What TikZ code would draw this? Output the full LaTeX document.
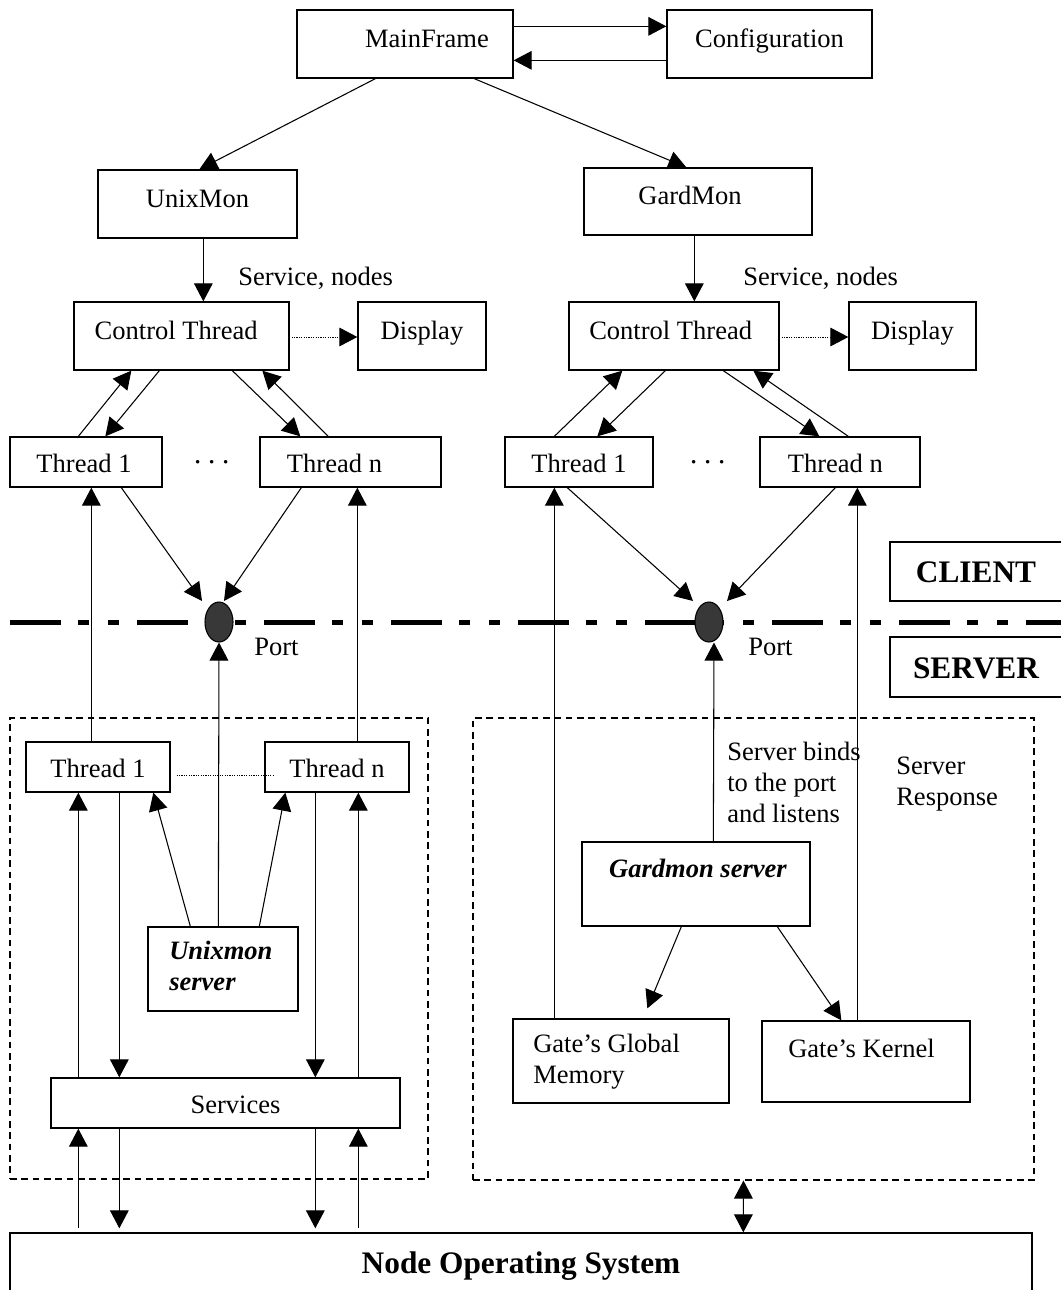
\documentclass[tikz,border=0pt]{standalone}
\usepackage{fontspec}
\setmainfont{Liberation Serif}
\usetikzlibrary{arrows.meta,calc,fit,shapes.geometric}
\begin{document}
\begin{tikzpicture}[x=0.75pt,y=-0.75pt,
  every node/.style={font=\fontsize{19.9}{23.25}\selectfont, inner sep=0pt},
  box/.style={draw, line width=1pt, rectangle, inner sep=0pt},
  sz/.style 2 args={minimum width=#1*0.75pt, minimum height=#2*0.75pt},
  tb/.style={text height=10pt, text depth=5.5pt},
  cb/.style={text height=15pt, text depth=0pt},
  bigb/.style={font=\fontsize{23.5}{28}\selectfont\bfseries, text height=17pt, text depth=0pt},
  bi/.style={font=\fontsize{19.9}{23}\selectfont\bfseries\itshape},
  dotsty/.style={font=\fontsize{27}{30}\selectfont},
  dbox/.style={draw, line width=0.8pt, dash pattern=on 5pt off 3.5pt, inner sep=0pt},
  tip/.tip={Triangle[length=13.5pt,width=14pt]},
  arr/.style={line width=0.8pt, -tip},
  darr/.style={line width=0.8pt, tip-tip},
  dotarr/.style={line width=0.7pt, dash pattern=on 0.8pt off 1pt, -tip},
  dotln/.style={line width=0.7pt, dash pattern=on 0.8pt off 1pt},
  port/.style={draw, ellipse, fill=black!78, line width=0.8pt, minimum width=21pt, minimum height=30pt},
  sep/.style={line width=3.75pt, dash pattern=on 38pt off 13pt on 8.25pt off 14.25pt on 8.25pt off 13.5pt}
]
\useasboundingbox (0,0) rectangle (1061,1290);
\clip (0,0) rectangle (1061,1290);

% dashed server regions
\node[dbox, fit={(10,718)(428,1179)}] (lbox) {};
\node[dbox, fit={(473,718)(1034,1180)}] (rbox) {};

% client boxes
\node[box, tb, sz={216}{68}] (mf) at (405,44) {\hspace*{33pt}MainFrame};
\node[box, tb, sz={205}{68}] (cfg) at (769.5,44) {Configuration};
\node[box, tb, sz={199}{68}] (um) at (197.5,204) {UnixMon};
\node[box, tb, sz={228}{67}] (gm) at (698,201.5) {\hspace*{-12pt}GardMon};
\node[box, tb, sz={215}{68}] (ct1) at (181.5,336) {\hspace*{-8pt}Control Thread};
\node[box, tb, sz={128}{68}] (d1) at (422,336) {Display};
\node[box, tb, sz={210}{68}] (ct2) at (674,336) {\hspace*{-5pt}Control Thread};
\node[box, tb, sz={127}{68}] (d2) at (912.5,336) {Display};
\node[box, cb, sz={152}{50}] (t11) at (86,462) {\hspace*{-3pt}Thread 1};
\node[box, cb, sz={181}{50}] (t1n) at (350.5,462) {Thread n\hspace*{24pt}};
\node[box, cb, sz={148}{50}] (t21) at (579,462) {Thread 1};
\node[box, cb, sz={160}{50}] (t2n) at (840,462) {Thread n\hspace*{7pt}};
\node[dotsty] (dots1) at (212,463) {${\cdot}\mkern2.5mu{\cdot}\mkern2.5mu{\cdot}$};
\node[dotsty] (dots2) at (708,463) {${\cdot}\mkern2.5mu{\cdot}\mkern2.5mu{\cdot}$};

\node[anchor=base west] (sn1) at (238,285) {Service, nodes};
\node[anchor=base west] (sn2) at (743,285) {Service, nodes};

% client / server labels
\node[box, bigb, sz={180}{59}] (client) at (980,571.5) {CLIENT\hspace*{6pt}};
\node[box, bigb, sz={180}{60}] (server) at (980,667) {SERVER\hspace*{6pt}};

% separator line and ports
\draw[sep] (10,622) -- (1061,622);
\node[port] (p1) at (219,622) {};
\node[port] (p2) at (709,622) {};
\node[anchor=base west] (port1) at (254,655) {Port};
\node[anchor=base west] (port2) at (748,655) {Port};

% server side (Unixmon)
\node[box, cb, sz={144}{50}] (s11) at (98,767) {Thread 1};
\node[box, cb, sz={144}{50}] (s1n) at (337,767) {Thread n};
\node[box, sz={150}{84}] (ums) at (223,969) {};
\node[bi, anchor=west, align=left] (umsT) at (169,966) {Unixmon\\server};
\node[box, cb, sz={349}{50}] (svc) at (225.5,1103) {\hspace*{15pt}Services};

% server side (Gardmon)
\node[box, sz={228}{84}] (gms) at (696,884) {};
\node[bi, anchor=base] (gmsT) at (698,877) {Gardmon server};
\node[box, sz={216}{84}] (ggm) at (621,1061) {};
\node[anchor=west, align=left] (ggmT) at (533,1062) {Gate’s Global\\Memory};
\node[box, sz={208}{81}] (gk) at (866,1061.5) {};
\node[anchor=base west] (gkT) at (788,1057) {Gate’s Kernel};
\node[anchor=west, align=left] (bindT) at (727,782) {Server binds\\to the port\\and listens};
\node[anchor=west, align=left] (respT) at (896,784.5) {Server\\Response};

% operating system
\node[box, bigb, text height=15pt, sz={1022}{60}] (nos) at (521,1263) {Node Operating System};

% ---- connectors: top
\draw[arr] ($(mf.north east)+(0,17)$) -- ($(cfg.north west)+(0,17)$);
\draw[arr] ($(cfg.north west)+(0,51)$) -- ($(mf.north east)+(0,51)$);
\draw[arr] ($(mf.south west)+(79,0)$) -- ($(um.north west)+(102,0)$);
\draw[arr] ($(mf.south west)+(178,0)$) -- ($(gm.north west)+(103,0)$);
\draw[arr] ($(um.south west)+(106,0)$) -- ($(ct1.north west)+(130,0)$);
\draw[arr] ($(gm.south west)+(111,0)$) -- ($(ct2.north west)+(126,0)$);
\draw[dotarr] ($(ct1.east)+(2,1)$) -- ($(d1.west)+(0,1)$);
\draw[dotarr] ($(ct2.east)+(2,1)$) -- ($(d2.west)+(0,1)$);

% control thread <-> threads
\draw[arr] ($(t11.north west)+(69,0)$) -- ($(ct1.south west)+(58,0)$);
\draw[arr] ($(ct1.south west)+(86,0)$) -- ($(t11.north west)+(96,0)$);
\draw[arr] ($(ct1.south west)+(159,0)$) -- ($(t1n.north west)+(41,0)$);
\draw[arr] ($(t1n.north west)+(69,0)$) -- ($(ct1.south west)+(189,0)$);
\draw[arr] ($(t21.north west)+(50,0)$) -- ($(ct2.south west)+(54,0)$);
\draw[arr] ($(ct2.south west)+(97,0)$) -- ($(t21.north west)+(93,0)$);
\draw[arr] ($(ct2.south west)+(155,0)$) -- ($(t2n.north west)+(60,0)$);
\draw[arr] ($(t2n.north west)+(89,0)$) -- ($(ct2.south west)+(185,0)$);

% threads -> ports
\draw[arr] ($(t11.south west)+(112,0)$) -- ($(p1.center)+(-17,-21)$);
\draw[arr] ($(t1n.south west)+(42,0)$) -- ($(p1.center)+(5,-21)$);
\draw[arr] ($(t21.south west)+(63,0)$) -- ($(p2.center)+(-16,-21)$);
\draw[arr] ($(t2n.south west)+(76,0)$) -- ($(p2.center)+(18,-21)$);

% long vertical lines from server to client
\draw[arr] ($(s11.north west)+(66,0)$) -- ($(t11.south west)+(82,0)$);
\draw[arr] ($(ums.north west)+(71,0)$) -- (p1.south);
\draw[arr] ($(s1n.north west)+(93,0)$) -- ($(t1n.south west)+(98,0)$);
\draw[arr] ($(ggm.north west)+(42,0)$) -- ($(t21.south west)+(50,0)$);
\draw[arr] ($(gms.north west)+(132,0)$) -- ($(p2.south)+(5,0)$);
\draw[arr] ($(gk.north west)+(96,0)$) -- ($(t2n.south west)+(98,0)$);

% unixmon server side
\draw[arr] ($(svc.north west)+(28,0)$) -- ($(s11.south west)+(53,0)$);
\draw[arr] ($(s11.south west)+(94,0)$) -- ($(svc.north west)+(69,0)$);
\draw[arr] ($(ums.north west)+(43,0)$) -- ($(s11.south west)+(128,0)$);
\draw[arr] ($(ums.north west)+(112,0)$) -- ($(s1n.south west)+(21,0)$);
\draw[arr] ($(s1n.south west)+(51,0)$) -- ($(svc.north west)+(265,0)$);
\draw[arr] ($(svc.north west)+(308,0)$) -- ($(s1n.south west)+(94,0)$);
\draw[dotln] ($(s11.east)+(6,8)$) -- ($(s1n.west)+(9,8)$);

% services <-> OS
\draw[arr] ($(nos.north west)+(69,-4)$) -- ($(svc.south west)+(28,0)$);
\draw[arr] ($(svc.south west)+(69,0)$) -- ($(nos.north west)+(110,-4)$);
\draw[arr] ($(svc.south west)+(265,0)$) -- ($(nos.north west)+(306,-4)$);
\draw[arr] ($(nos.north west)+(349,-4)$) -- ($(svc.south west)+(308,0)$);

% gardmon server side
\draw[arr] ($(gms.south west)+(100,0)$) -- ($(ggm.north west)+(135,-10)$);
\draw[arr] ($(gms.south west)+(196,0)$) -- ($(gk.north west)+(80,0)$);
\draw[darr] ($(rbox.south west)+(271,0)$) -- ($(nos.north west)+(734,0)$);
\end{tikzpicture}
\end{document}
